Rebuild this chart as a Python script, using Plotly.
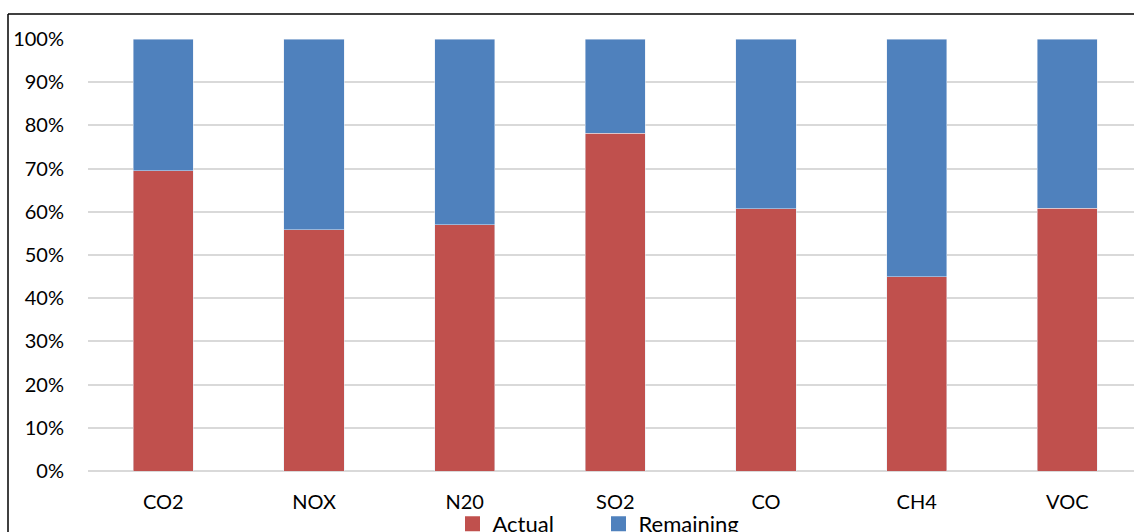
import plotly.graph_objects as go

categories = ["CO2", "NOX", "N20", "SO2", "CO", "CH4", "VOC"]
actual = [0.695, 0.558, 0.57, 0.782, 0.607, 0.45, 0.608]
remaining = [1 - a for a in actual]
tick_vals = [0, 0.1, 0.2, 0.3, 0.4, 0.5, 0.6, 0.7, 0.8, 0.9, 1.0]
tick_text = ["0%", "10%", "20%", "30%", "40%", "50%", "60%", "70%", "80%", "90%", "100%"]

RED, BLUE = "#C0504D", "#4F81BD"
W, H = 1142, 545
L, T = 88, 39
plot_h = 432.5
B = H - T - plot_h
plot_w = W - L

fig = go.Figure()
fig.add_trace(go.Bar(name="Actual", x=categories, y=actual, marker_color=RED, width=0.4,
                     showlegend=False))
fig.add_trace(go.Bar(name="Remaining", x=categories, y=remaining, marker_color=BLUE, width=0.4,
                     showlegend=False))
# legend entries with larger square swatches
fig.add_trace(go.Scatter(name="Actual", x=[None], y=[None], mode="markers",
                         marker=dict(symbol="square", size=15, color=RED)))
fig.add_trace(go.Scatter(name="Remaining", x=[None], y=[None], mode="markers",
                         marker=dict(symbol="square", size=15, color=BLUE)))

font_family = "Lato, Open Sans, sans-serif"
fig.update_layout(
    barmode="stack",
    width=W, height=H,
    margin=dict(l=L, r=0, t=T, b=B, pad=0, autoexpand=False),
    paper_bgcolor="white", plot_bgcolor="white",
    font=dict(family=font_family, size=20, color="black"),
    showlegend=True,
    legend=dict(orientation="h", xref="container", yref="container",
                x=452.5 / W, xanchor="left", y=0.0, yanchor="bottom",
                bgcolor="rgba(0,0,0,0)",
                font=dict(size=22), entrywidth=101, entrywidthmode="pixels",
                traceorder="normal"),
    xaxis=dict(range=[-0.5, -0.5 + plot_w / 150.67], showgrid=False, showline=False,
               ticks="", tickfont=dict(size=20), ticklabelstandoff=17, automargin=False),
    yaxis=dict(range=[0, 1], tickvals=tick_vals, ticktext=tick_text, showgrid=True,
               gridcolor="#D9D9D9", gridwidth=1.5, zeroline=True, zerolinecolor="#D9D9D9",
               zerolinewidth=1.5, showline=False, ticks="", ticklabelstandoff=23,
               tickfont=dict(size=20), automargin=False),
)

# frame border (top and left lines)
x_left = (8 - L) / plot_w
y_top = (H - B - 14) / plot_h
fig.add_shape(type="line", xref="paper", yref="paper", x0=x_left, x1=1.05, y0=y_top, y1=y_top,
              line=dict(color="black", width=1.5))
fig.add_shape(type="line", xref="paper", yref="paper", x0=x_left, x1=x_left, y0=y_top, y1=-0.3,
              line=dict(color="black", width=1.5))

fig.write_html("out.html",
               config={"displayModeBar": False},
               post_script="document.documentElement.style.overflow='hidden';"
                           "document.body.style.overflow='hidden';"
                           "document.body.style.margin='0';")
